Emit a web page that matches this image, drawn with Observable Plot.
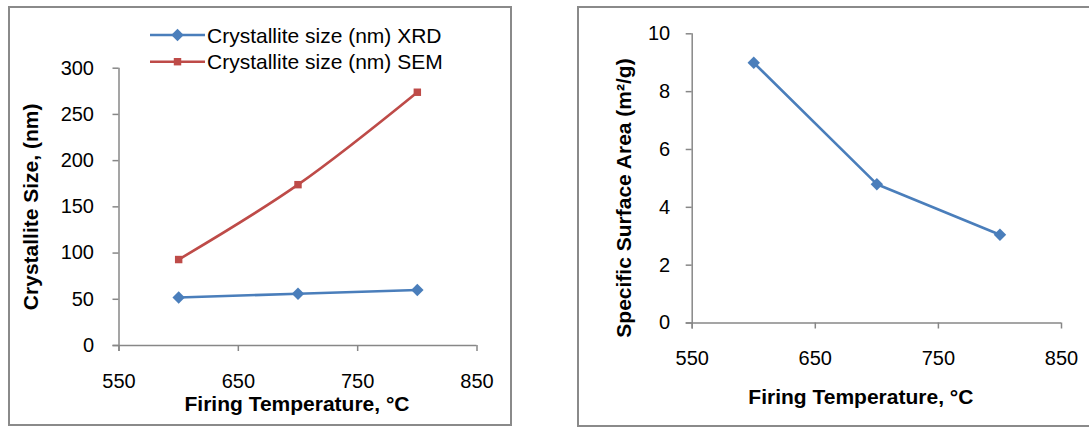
<!DOCTYPE html>
<html>
<head>
<meta charset="utf-8">
<script src="https://cdn.jsdelivr.net/npm/d3@7"></script>
<script src="https://cdn.jsdelivr.net/npm/@observablehq/plot@0.6"></script>
<style>
  html, body { margin: 0; padding: 0; background: #fff; }
  #page { position: relative; width: 1089px; height: 428px; overflow: hidden; background: #fff; }
  #page svg.panel { position: absolute; top: 0; }
  .frame { position: absolute; border: 2px solid #8a8a8a; box-sizing: border-box; pointer-events: none; }
</style>
</head>
<body>
<div id="page"></div>
<script>
// Firing temperature (°C) and measured properties
const temps = [600, 700, 800];
const xrdSize = [52, 56, 60];          // crystallite size from XRD, nm
const semSize = [93, 174, 274];        // crystallite size from SEM, nm
const surfaceArea = [9.0, 4.8, 3.05];  // specific surface area, m²/g

// Axis ticks
const tempTicks = [550, 650, 750, 850];
const sizeTicks = [0, 50, 100, 150, 200, 250, 300];
const areaTicks = [0, 2, 4, 6, 8, 10];

// Labels
const xrdLabel = "Crystallite size (nm) XRD";
const semLabel = "Crystallite size (nm) SEM";
const tempTitle = "Firing Temperature, °C";
const sizeTitle = "Crystallite Size, (nm)";
const areaTitle = "Specific Surface Area (m²/g)";

const blue = "#4a7ebb";
const red = "#be4b48";
const axisGray = "#878787";
const font = "'Liberation Sans', Arial, Helvetica, sans-serif";

const diamondR = 5.6;
const squareR = 4.2;

const xrdRows = temps.map((t, i) => ({t, v: xrdSize[i]}));
const semRows = temps.map((t, i) => ({t, v: semSize[i]}));
const areaRows = temps.map((t, i) => ({t, v: surfaceArea[i]}));

const baseStyle = {
  fontFamily: font,
  fontSize: "20px",
  color: "black",
  background: "transparent",
  overflow: "visible",
  maxWidth: "none"
};

function axes(yTicks, yPad) {
  return [
    Plot.ruleY([0], {stroke: axisGray, strokeWidth: 1.5, insetLeft: -6}),
    Plot.ruleX([550], {stroke: axisGray, strokeWidth: 1.5, insetBottom: -6}),
    Plot.axisY({ticks: yTicks, tickSize: 6, tickPadding: yPad, stroke: axisGray, strokeWidth: 1.5, fill: "black", label: null}),
    Plot.axisX({ticks: tempTicks, tickSize: 6, tickPadding: 22, stroke: axisGray, strokeWidth: 1.5, fill: "black", label: null})
  ];
}

const titleStyle = {text: d => d, fontWeight: "bold", fontSize: 21, fill: "black", textAnchor: "middle"};

// Left panel: crystallite size vs firing temperature
const left = Plot.plot({
  width: 520,
  height: 428,
  marginLeft: 118.5,
  marginRight: 43.5,
  marginTop: 67.7,
  marginBottom: 83,
  x: {domain: [550, 850]},
  y: {domain: [0, 300]},
  style: baseStyle,
  marks: [
    ...axes(sizeTicks, 19),
    Plot.line(xrdRows, {x: "t", y: "v", stroke: blue, strokeWidth: 2.6}),
    Plot.dot(xrdRows, {x: "t", y: "v", symbol: "diamond2", r: diamondR, fill: blue, stroke: "none"}),
    Plot.line(semRows, {x: "t", y: "v", stroke: red, strokeWidth: 2.6, curve: "catmull-rom"}),
    Plot.dot(semRows, {x: "t", y: "v", symbol: "square", r: squareR, fill: red, stroke: "none"}),
    Plot.text([tempTitle], {...titleStyle, frameAnchor: "bottom", dy: 65.5, dx: -1}),
    Plot.text([sizeTitle], {...titleStyle, frameAnchor: "left", rotate: -90, dx: -88})
  ]
});

// Right panel: specific surface area vs firing temperature
const right = Plot.plot({
  width: 519,
  height: 428,
  marginLeft: 121.7,
  marginRight: 28,
  marginTop: 33.3,
  marginBottom: 105.5,
  x: {domain: [550, 850]},
  y: {domain: [0, 10]},
  style: baseStyle,
  marks: [
    ...axes(areaTicks, 16),
    Plot.line(areaRows, {x: "t", y: "v", stroke: blue, strokeWidth: 2.6}),
    Plot.dot(areaRows, {x: "t", y: "v", symbol: "diamond2", r: diamondR, fill: blue, stroke: "none"}),
    Plot.text([tempTitle], {...titleStyle, frameAnchor: "bottom", dy: 81, dx: -16}),
    Plot.text([areaTitle], {...titleStyle, frameAnchor: "left", rotate: -90, dx: -67.7, dy: 19.6})
  ]
});

const page = document.getElementById("page");
left.classList.add("panel");
right.classList.add("panel");
left.style.left = "0px";
right.style.left = "570px";
page.appendChild(left);
page.appendChild(right);

// Legend for the left panel
const legend = d3.select(page).append("svg")
  .attr("width", 520).attr("height", 80)
  .style("position", "absolute").style("left", "0px").style("top", "0px")
  .style("overflow", "visible");
const entries = [
  {label: xrdLabel, color: blue, symbol: d3.symbolDiamond2, size: Math.PI * diamondR * diamondR, cy: 35},
  {label: semLabel, color: red, symbol: d3.symbolSquare, size: Math.PI * squareR * squareR, cy: 61.7}
];
for (const e of entries) {
  const g = legend.append("g");
  g.append("line").attr("x1", 150).attr("x2", 205).attr("y1", e.cy).attr("y2", e.cy)
    .attr("stroke", e.color).attr("stroke-width", 2.6);
  g.append("path").attr("d", d3.symbol(e.symbol, e.size)())
    .attr("transform", `translate(177.5,${e.cy})`).attr("fill", e.color);
  g.append("text").attr("x", 207).attr("y", e.cy + 7.5)
    .attr("font-family", font).attr("font-size", 21).attr("fill", "black")
    .text(e.label);
}

// Panel frames
for (const f of [
  {left: 8, top: 6, width: 504, height: 420},
  {left: 577, top: 6, width: 530, height: 421}
]) {
  const d = document.createElement("div");
  d.className = "frame";
  Object.assign(d.style, {left: f.left + "px", top: f.top + "px", width: f.width + "px", height: f.height + "px"});
  page.appendChild(d);
}
</script>
</body>
</html>
